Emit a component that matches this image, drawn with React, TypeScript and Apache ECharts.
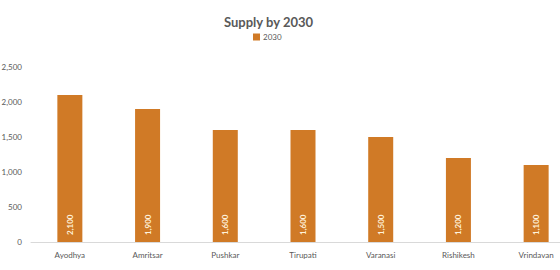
import React, { useEffect, useRef } from "react";
import * as echarts from "echarts";

const categories = ["Ayodhya", "Amritsar", "Pushkar", "Tirupati", "Varanasi", "Rishikesh", "Vrindavan"];
const values2030 = [2100, 1900, 1600, 1600, 1500, 1200, 1100];
const seriesName = "2030";
const titleText = "Supply by 2030";

export default function App() {
  const ref = useRef<HTMLDivElement>(null);
  useEffect(() => {
    if (!ref.current) return;
    const chart = echarts.init(ref.current, undefined, { renderer: "svg" });
    const font = "Lato, 'Noto Sans', sans-serif";
    chart.setOption({
      animation: false,
      backgroundColor: "#ffffff",
      textStyle: { fontFamily: font },
      title: {
        text: titleText,
        left: 219,
        top: 10,
        textStyle: { fontSize: 13, fontWeight: "bold", color: "#595959", fontFamily: font },
      },
      legend: {
        data: [seriesName],
        left: 248,
        top: 28,
        itemWidth: 7,
        itemHeight: 7,
        itemGap: 4,
        icon: "rect",
        textStyle: { fontSize: 8, color: "#595959", fontFamily: font, padding: [0, 0, 0, -2] },
      },
      grid: { left: 31, width: 544, top: 67, bottom: 28, containLabel: false, outerBoundsMode: "none" },
      xAxis: {
        type: "category",
        data: categories,
        axisLine: { lineStyle: { color: "#D9D9D9" } },
        axisTick: { show: false },
        axisLabel: { fontSize: 8, color: "#595959", margin: 9, fontFamily: font },
      },
      yAxis: {
        type: "value",
        min: 0,
        max: 2500,
        interval: 500,
        splitLine: { show: false },
        axisLine: { show: false },
        axisTick: { show: false },
        axisLabel: {
          fontSize: 8,
          color: "#595959",
          margin: 9,
          fontFamily: font,
          formatter: (v: number) => v.toLocaleString("en-US"),
        },
      },
      series: [
        {
          name: seriesName,
          type: "bar",
          data: values2030,
          barWidth: 25,
          itemStyle: { color: "#D07A26" },
          label: {
            show: true,
            position: "insideBottom",
            rotate: 90,
            align: "left",
            verticalAlign: "middle",
            distance: 7,
            fontSize: 8,
            fontWeight: "bold",
            color: "#FFF3DC",
            fontFamily: font,
            formatter: (p: any) => Number(p.value).toLocaleString("en-US"),
          },
        },
      ],
    });
    return () => chart.dispose();
  }, []);
  return <div ref={ref} style={{ width: 560, height: 270, position: "absolute", left: 0, top: 0 }} />;
}
